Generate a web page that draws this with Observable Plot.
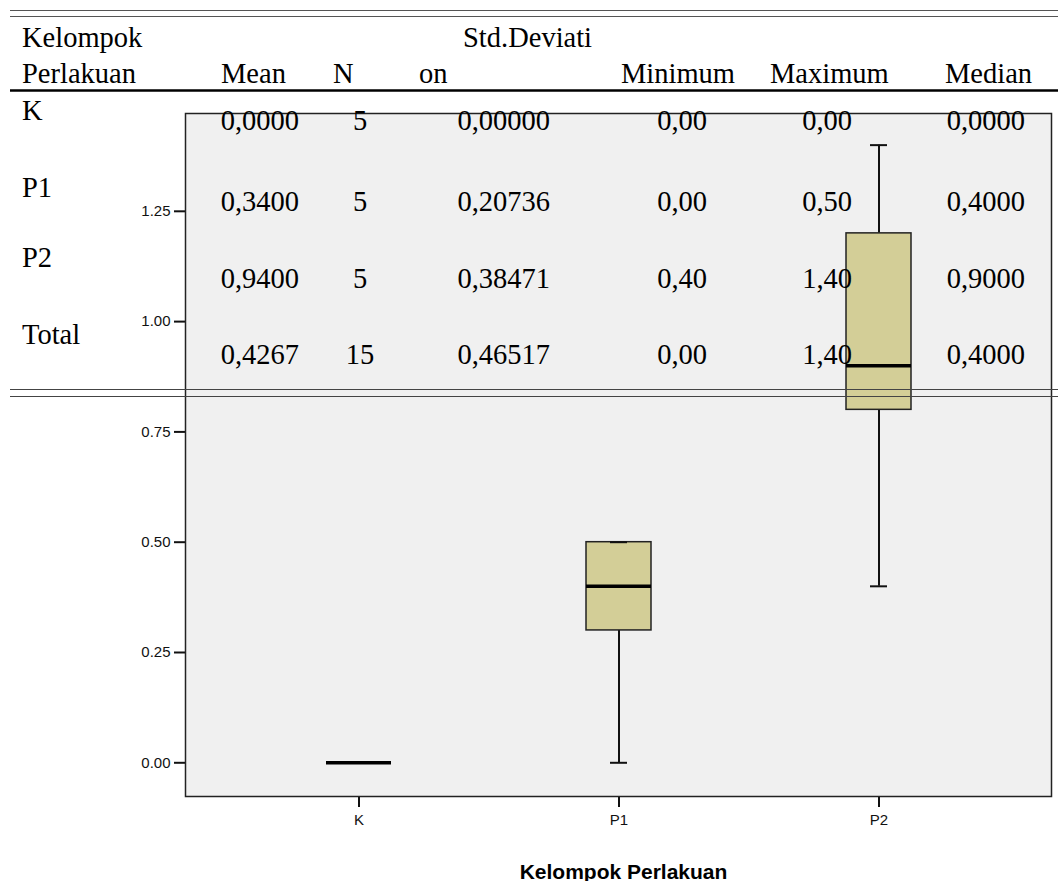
<!DOCTYPE html>
<html>
<head>
<meta charset="utf-8">
<script src="https://cdn.jsdelivr.net/npm/d3@7"></script>
<script src="https://cdn.jsdelivr.net/npm/@observablehq/plot@0.6"></script>
<style>
  html, body { margin: 0; padding: 0; background: #fff; }
  #chart svg { display: block; }
</style>
</head>
<body>
<div id="chart"></div>
<script>
// ---- Boxplot data (Kelompok Perlakuan) ----
const groups  = ["K", "P1", "P2"];
const mins    = [0.00, 0.00, 0.40];
const q1s     = [0.00, 0.30, 0.80];
const medians = [0.00, 0.40, 0.90];
const q3s     = [0.00, 0.50, 1.20];
const maxs    = [0.00, 0.50, 1.40];
const yTicks  = [0, 0.25, 0.5, 0.75, 1.0, 1.25];

// ---- Overlaid descriptive table ----
const headerTop    = ["Kelompok", "Std.Deviati"];
const headerBottom = ["Perlakuan", "Mean", "N", "on", "Minimum", "Maximum", "Median"];
const rowLabels = ["K", "P1", "P2", "Total"];
const tMean   = ["0,0000", "0,3400", "0,9400", "0,4267"];
const tN      = ["5", "5", "5", "15"];
const tStd    = ["0,00000", "0,20736", "0,38471", "0,46517"];
const tMin    = ["0,00", "0,00", "0,40", "0,00"];
const tMax    = ["0,00", "0,50", "1,40", "1,40"];
const tMedian = ["0,0000", "0,4000", "0,9000", "0,4000"];

const data = groups.map((g, i) => ({
  g, min: mins[i], q1: q1s[i], med: medians[i], q3: q3s[i], max: maxs[i]
}));

const chart = Plot.plot({
  width: 1058,
  height: 881,
  marginLeft: 185,
  marginRight: 7,
  marginTop: 113,
  marginBottom: 85,
  style: { background: "#fff", fontFamily: "'Liberation Sans', Arial, sans-serif", color: "#111" },
  x: { type: "band", domain: groups, paddingInner: 0.75, paddingOuter: 0.54, label: null },
  y: { domain: [-0.0764, 1.4717], label: null },
  marks: [
    Plot.frame({ fill: "#f0f0f0" }),
    Plot.axisY({ ticks: yTicks, tickFormat: d => d.toFixed(2), tickSize: 11, tickPadding: 4,
                 fontSize: 15, strokeWidth: 2, label: null }),
    Plot.axisX({ tickSize: 11, tickPadding: 7, fontSize: 15, strokeWidth: 2, label: null }),
    Plot.ruleX(data, { x: "g", y1: "min", y2: "q1", stroke: "#111", strokeWidth: 2 }),
    Plot.ruleX(data, { x: "g", y1: "q3", y2: "max", stroke: "#111", strokeWidth: 2 }),
    Plot.barY(data, { x: "g", y1: "q1", y2: "q3", fill: "#d3ce97", stroke: "#222", strokeWidth: 1.5 }),
    Plot.tickY(data, { x: "g", y: "min", insetLeft: 24, insetRight: 24, stroke: "#111", strokeWidth: 2 }),
    Plot.tickY(data, { x: "g", y: "max", insetLeft: 24, insetRight: 24, stroke: "#111", strokeWidth: 2 }),
    Plot.tickY(data, { x: "g", y: "med", stroke: "#000", strokeWidth: 3.5 }),
    Plot.frame({ stroke: "#222", strokeWidth: 1.5 }),
    Plot.text(["Kelompok Perlakuan"], { frameAnchor: "bottom", dy: 82, dx: 5, lineAnchor: "bottom",
                 fontWeight: "bold", fontSize: 21, fill: "#000" })
  ]
});

document.getElementById("chart").appendChild(chart);

// ---- Table overlay (layout constants) ----
const svg = d3.select(chart);
const tbl = svg.append("g")
  .attr("font-family", "'Liberation Serif', 'Times New Roman', serif")
  .attr("font-size", 28.5)
  .attr("fill", "#000");

const lineX0 = 10, lineX1 = 1058;
const hlines = [
  { y: 10.5, stroke: "#555", w: 1.2 },
  { y: 16.5, stroke: "#555", w: 1.2 },
  { y: 90.5, stroke: "#000", w: 2.5 },
  { y: 389.5, stroke: "#444", w: 1.2 },
  { y: 396.5, stroke: "#444", w: 1.2 }
];
tbl.selectAll("line").data(hlines).join("line")
  .attr("x1", lineX0).attr("x2", lineX1)
  .attr("y1", d => d.y).attr("y2", d => d.y)
  .attr("stroke", d => d.stroke).attr("stroke-width", d => d.w);

function put(txt, x, y, anchor) {
  tbl.append("text").attr("x", x).attr("y", y)
    .attr("text-anchor", anchor || "start").text(txt);
}

// headers
const headTopX = [22, 463];
headerTop.forEach((t, i) => put(t, headTopX[i], 47));
const headBotX = [22, 221, 333, 419, 621, 770, 945];
headerBottom.forEach((t, i) => put(t, headBotX[i], 83));

// rows
const labelY = [120, 197, 267, 344];
const valueY = [130, 211, 288, 364];
rowLabels.forEach((t, i) => put(t, 22, labelY[i]));
const cols = [
  { vals: tMean,   x: 299, a: "end" },
  { vals: tN,      x: 360, a: "middle" },
  { vals: tStd,    x: 550, a: "end" },
  { vals: tMin,    x: 707, a: "end" },
  { vals: tMax,    x: 852, a: "end" },
  { vals: tMedian, x: 1025, a: "end" }
];
cols.forEach(c => c.vals.forEach((v, i) => put(v, c.x, valueY[i], c.a)));
</script>
</body>
</html>
